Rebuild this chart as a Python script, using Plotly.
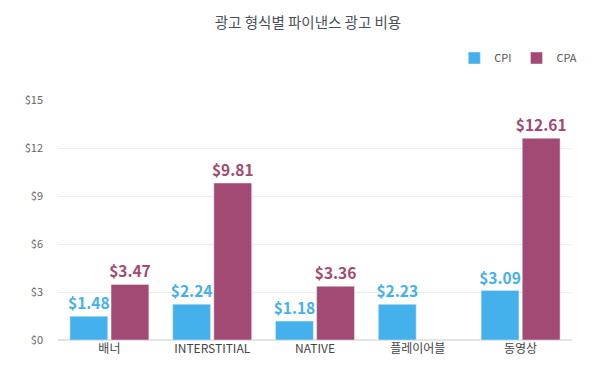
import plotly.graph_objects as go

categories = ["배너", "INTERSTITIAL", "NATIVE", "플레이어블", "동영상"]
cpi = [1.48, 2.24, 1.18, 2.23, 3.09]
cpa = [3.47, 9.81, 3.36, None, 12.61]
tick_vals = [0, 3, 6, 9, 12, 15]
tick_text = ["$0", "$3", "$6", "$9", "$12", "$15"]

blue = "#45b1ec"
purple = "#a24a73"
font_family = "Noto Sans CJK KR, Noto Sans, sans-serif"

fig = go.Figure()
fig.add_trace(go.Bar(
    name="CPI", x=categories, y=cpi, marker_color=blue,
    text=[f"${v:.2f}" for v in cpi], textposition="outside",
    textfont=dict(color=blue, size=15.5, family=font_family, weight="bold"),
    cliponaxis=False, constraintext="none",
))
fig.add_trace(go.Bar(
    name="CPA", x=categories, y=cpa, marker_color=purple,
    text=[f"${v:.2f}" if v is not None else "" for v in cpa], textposition="outside",
    textfont=dict(color=purple, size=15.5, family=font_family, weight="bold"),
    cliponaxis=False, constraintext="none",
))

fig.update_layout(
    width=600, height=380,
    paper_bgcolor="white", plot_bgcolor="white",
    font=dict(family=font_family, color="#555"),
    title=dict(text="광고 형식별 파이낸스 광고 비용", x=0.5, xanchor="center",
               y=0.962, yanchor="middle", font=dict(size=14.5, color="#4a4f55")),
    margin=dict(l=50, r=36, t=92, b=48),
    barmode="group", bargap=0.2, bargroupgap=0.08,
    legend=dict(orientation="h", x=1.02, xanchor="right", y=1.175, yanchor="middle",
                font=dict(size=11, color="#555"), itemwidth=30),
    yaxis=dict(range=[0, 15], tickvals=tick_vals, ticktext=tick_text,
               gridcolor="#ececec", zeroline=True, zerolinecolor="#e4e4e4",
               tickfont=dict(size=11, color="#666"), ticklen=0, ticks="",
               ticklabelstandoff=14),
    xaxis=dict(tickfont=dict(size=12, color="#444"), showline=False),
    showlegend=True,
)
fig.write_html("out.html")
